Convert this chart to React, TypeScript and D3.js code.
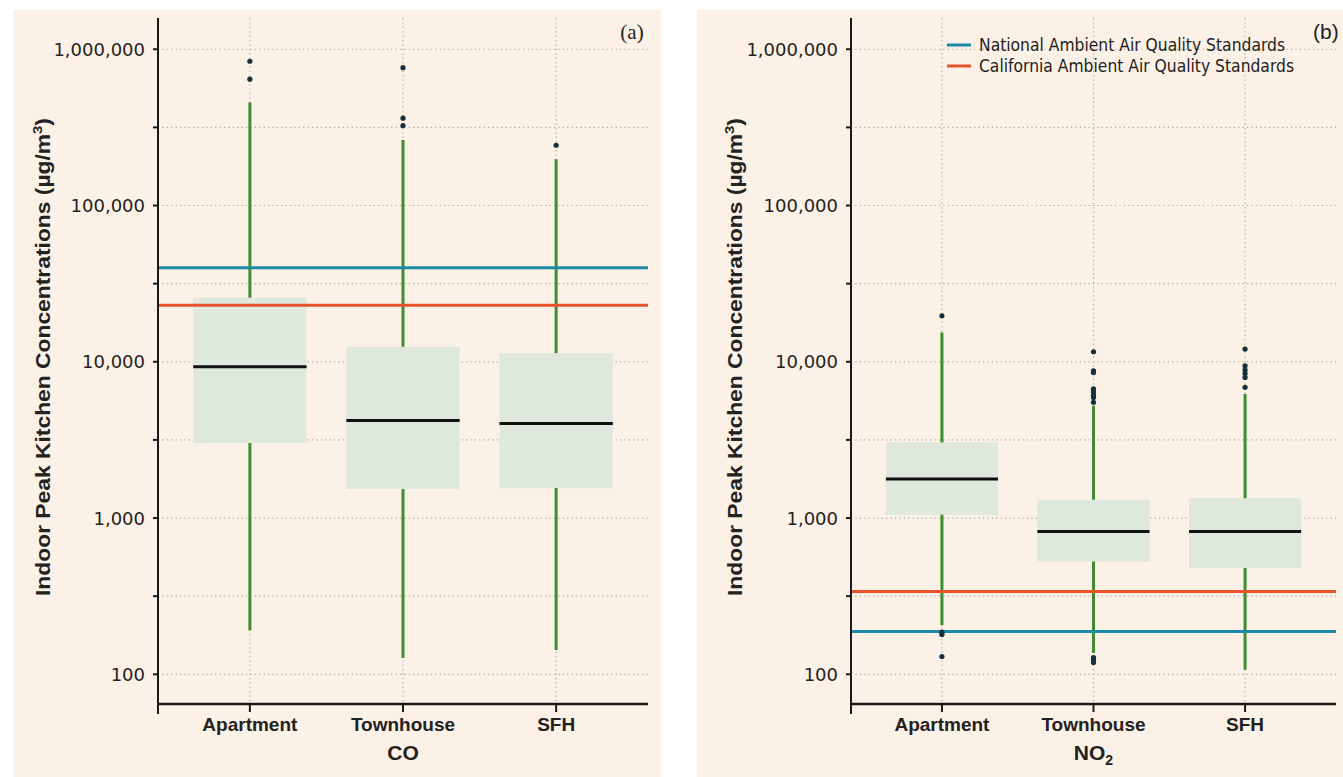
import React from "react";
import * as d3 from "d3";

// Housing types on the x axis
const categories = ["Apartment", "Townhouse", "SFH"];

// CO peak kitchen concentrations (µg/m³), box-plot summaries per housing type
const coLowerWhisker = [191, 127, 143];
const coQ1 = [3020, 1534, 1556];
const coMedian = [9300, 4210, 4030];
const coQ3 = [25700, 12470, 11370];
const coUpperWhisker = [457000, 263000, 198000];
const coOutliers = [[838000, 643000], [762000, 362000, 325000], [243000]];

// NO2 peak kitchen concentrations (µg/m³)
const no2LowerWhisker = [207, 137, 107];
const no2Q1 = [1050, 527, 479];
const no2Median = [1776, 821, 821];
const no2Q3 = [3050, 1310, 1340];
const no2UpperWhisker = [15400, 5220, 6210];
const no2Outliers = [
  [19700, 186, 180, 130],
  [11590, 8760, 8550, 6700, 6400, 6100, 5900, 5500, 128, 124, 119],
  [12060, 9430, 8870, 8400, 7940, 6860],
];

// Ambient air quality standards (µg/m³)
const coNational = 40000;
const coCalifornia = 23000;
const no2National = 188;
const no2California = 339;

const legendLabels = ["National Ambient Air Quality Standards", "California Ambient Air Quality Standards"];

// Axis ticks: labelled decades plus unlabelled half-decade ticks
const majorTicks = [100, 1000, 10000, 100000, 1000000];
const minorTicks = [316.2278, 3162.278, 31622.78, 316227.8];
const tickLabels = ["100", "1,000", "10,000", "100,000", "1,000,000"];

const COLORS = {
  cream: "#fcf1e6",
  box: "#dfe8dc",
  whisker: "#3e8e31",
  outlier: "#16303d",
  national: "#1b8aa6",
  california: "#e9532b",
  grid: "#a9a5a0",
  axis: "#1a1a1a",
  text: "#222",
};

type PanelProps = {
  x0: number;
  x1: number;
  bgX0: number;
  bgX1: number;
  lower: number[];
  q1: number[];
  median: number[];
  q3: number[];
  upper: number[];
  outliers: number[][];
  national: number;
  california: number;
  xTitle: React.ReactNode;
  tag: React.ReactNode;
  titleX: number;
  legend?: boolean;
};

const yTop = 18;
const yBottom = 704;

function Panel(p: PanelProps) {
  const y = d3.scaleLog().domain([Math.pow(10, 1.81), Math.pow(10, 6.2)]).range([yBottom, yTop]);
  const x = d3.scalePoint<string>().domain(categories).range([p.x0, p.x1]).padding(0.6);
  const step = x.step();
  const boxW = step * 0.74;
  const gridVals = [...majorTicks, ...minorTicks];
  const midX = (p.x0 + p.x1) / 2;
  const font = "'Liberation Sans', Arial, sans-serif";

  return (
    <g>
      <rect x={p.bgX0} y={10} width={p.bgX1 - p.bgX0} height={767} fill={COLORS.cream} />

      {/* dotted grid */}
      {gridVals.map((v, i) => (
        <line key={"h" + i} x1={p.x0} x2={p.x1} y1={y(v)} y2={y(v)} stroke={COLORS.grid} strokeWidth={1.2} strokeDasharray="1.2 3.2" />
      ))}
      {categories.map((c) => (
        <line key={"v" + c} x1={x(c)} x2={x(c)} y1={yTop} y2={yBottom} stroke={COLORS.grid} strokeWidth={1.2} strokeDasharray="1.2 3.2" />
      ))}

      {/* whiskers */}
      {categories.map((c, i) => (
        <line key={"w" + c} x1={x(c)} x2={x(c)} y1={y(p.lower[i])} y2={y(p.upper[i])} stroke={COLORS.whisker} strokeWidth={3} />
      ))}
      {/* boxes */}
      {categories.map((c, i) => (
        <rect key={"b" + c} x={(x(c) as number) - boxW / 2} width={boxW} y={y(p.q3[i])} height={y(p.q1[i]) - y(p.q3[i])} fill={COLORS.box} />
      ))}
      {/* medians */}
      {categories.map((c, i) => (
        <line key={"m" + c} x1={(x(c) as number) - boxW / 2} x2={(x(c) as number) + boxW / 2} y1={y(p.median[i])} y2={y(p.median[i])} stroke="#111" strokeWidth={3} />
      ))}

      {/* standards */}
      <line x1={p.x0} x2={p.x1} y1={y(p.national)} y2={y(p.national)} stroke={COLORS.national} strokeWidth={3} />
      <line x1={p.x0} x2={p.x1} y1={y(p.california)} y2={y(p.california)} stroke={COLORS.california} strokeWidth={3} />

      {/* outliers */}
      {categories.map((c, i) =>
        p.outliers[i].map((v, j) => <circle key={"o" + c + j} cx={x(c)} cy={y(v)} r={2.6} fill={COLORS.outlier} />)
      )}

      {/* axes */}
      <line x1={p.x0} x2={p.x0} y1={yTop} y2={714} stroke={COLORS.axis} strokeWidth={2} />
      <line x1={p.x0} x2={p.x1} y1={yBottom} y2={yBottom} stroke={COLORS.axis} strokeWidth={2.4} />
      {gridVals.map((v, i) => (
        <line key={"t" + i} x1={p.x0 - 5} x2={p.x0} y1={y(v)} y2={y(v)} stroke={COLORS.axis} strokeWidth={2} />
      ))}
      {majorTicks.map((v, i) => (
        <text key={"l" + i} x={p.x0 - 13} y={y(v)} dy="0.36em" textAnchor="end" fontFamily="'DejaVu Sans', sans-serif" fontSize={18} fill={COLORS.text}>
          {tickLabels[i]}
        </text>
      ))}
      {categories.map((c) => (
        <g key={"x" + c}>
          <line x1={x(c)} x2={x(c)} y1={yBottom} y2={yBottom + 8} stroke={COLORS.axis} strokeWidth={2} />
          <text x={x(c)} y={731} textAnchor="middle" fontFamily={font} fontWeight="bold" fontSize={19} fill={COLORS.text}>
            {c}
          </text>
        </g>
      ))}
      <text x={x(categories[1])} y={760} textAnchor="middle" fontFamily={font} fontWeight="bold" fontSize={21} fill={COLORS.text}>
        {p.xTitle}
      </text>
      <text transform={`translate(${p.titleX},357) rotate(-90)`} textAnchor="middle" fontFamily={font} fontWeight="bold" fontSize={20} fill={COLORS.text} textLength={478} lengthAdjust="spacingAndGlyphs">
        Indoor Peak Kitchen Concentrations (µg/m<tspan fontSize={13} dy={-8}>3</tspan><tspan dy={8}>)</tspan>
      </text>
      {p.tag}

      {p.legend && (
        <g>
          {[COLORS.national, COLORS.california].map((col, i) => (
            <g key={"lg" + i}>
              <line x1={947} x2={971} y1={45 + i * 21} y2={45 + i * 21} stroke={col} strokeWidth={3} />
              <text x={979} y={51 + i * 21} fontFamily="'Liberation Sans Narrow', 'DejaVu Sans Condensed', sans-serif" fontSize={17} fill={COLORS.text} textLength={i === 0 ? 306 : 315} lengthAdjust="spacingAndGlyphs">
                {legendLabels[i]}
              </text>
            </g>
          ))}
        </g>
      )}
    </g>
  );
}

export default function App() {
  return (
    <div style={{ position: "fixed", left: 0, top: 0 }}>
      <svg width={1343} height={777} style={{ display: "block", background: "#ffffff" }}>
        <Panel
          x0={158}
          x1={648}
          bgX0={13}
          bgX1={661}
          lower={coLowerWhisker}
          q1={coQ1}
          median={coMedian}
          q3={coQ3}
          upper={coUpperWhisker}
          outliers={coOutliers}
          national={coNational}
          california={coCalifornia}
          titleX={50}
          xTitle="CO"
          tag={
            <text x={632} y={39} textAnchor="middle" fontFamily="'Liberation Serif', serif" fontSize={21} fill={COLORS.text}>
              (a)
            </text>
          }
        />
        <Panel
          x0={851}
          x1={1336}
          bgX0={697}
          bgX1={1343}
          lower={no2LowerWhisker}
          q1={no2Q1}
          median={no2Median}
          q3={no2Q3}
          upper={no2UpperWhisker}
          outliers={no2Outliers}
          national={no2National}
          california={no2California}
          titleX={742}
          legend
          xTitle={
            <>
              NO<tspan fontSize={14} dy={5}>2</tspan>
            </>
          }
          tag={
            <text x={1313} y={39} fontFamily="'Liberation Sans', sans-serif" fontSize={21} fill={COLORS.text}>
              (b)
            </text>
          }
        />
      </svg>
    </div>
  );
}
